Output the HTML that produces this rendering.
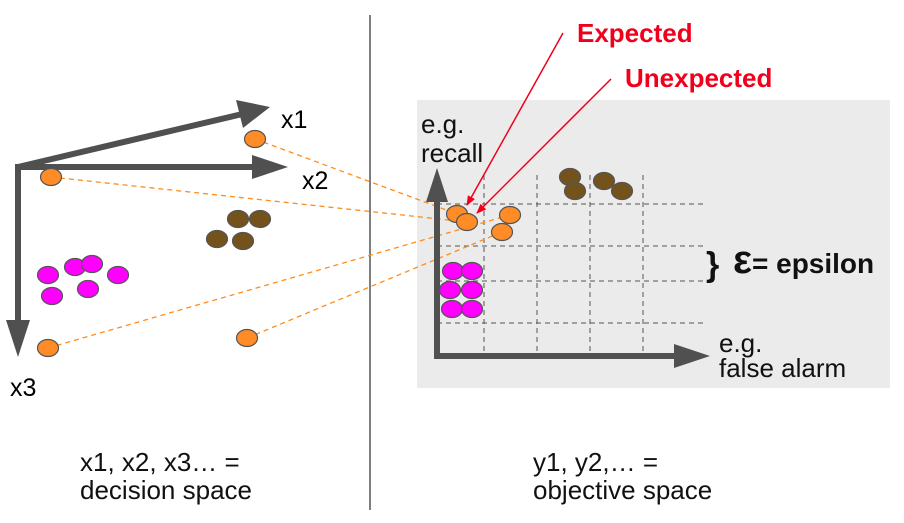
<!DOCTYPE html>
<html><head><meta charset="utf-8"><style>
html,body{margin:0;padding:0;background:#fff;}
svg{display:block;font-family:"Liberation Sans",sans-serif;}
</style></head><body>
<svg id="chart" width="904" height="523" viewBox="0 0 904 523">
<defs>
<marker id="redhead" markerWidth="10" markerHeight="10" refX="9" refY="5" orient="auto" markerUnits="userSpaceOnUse"><path d="M0,1 L10,5 L0,9 z" fill="#f0001c"/></marker>
</defs>
<rect x="417" y="100" width="473" height="288" fill="#ebebeb"/>
<line x1="370" y1="15" x2="370" y2="510" stroke="#555" stroke-width="1.5"/>
<g id="grid"></g>
<g id="dashes"></g>
<g fill="#505050" stroke="#505050">
<line x1="18" y1="167" x2="255" y2="111" stroke-width="6"/>
<polygon points="270,107 236,100 243,128" stroke="none"/>
<line x1="18" y1="167" x2="255" y2="167" stroke-width="6"/>
<polygon points="288,167 252,155 252,179" stroke="none"/>
<line x1="18" y1="164" x2="18" y2="325" stroke-width="6"/>
<polygon points="18,357 6,320 30,320" stroke="none"/>
</g>
<text x="281" y="128" font-size="25">x1</text>
<text x="302" y="189" font-size="25">x2</text>
<text x="10" y="396" font-size="25">x3</text>
<g fill="#505050" stroke="#505050">
<line x1="437" y1="190" x2="437" y2="358" stroke-width="6"/>
<polygon points="437,168 426,202 448,202" stroke="none"/>
<line x1="434" y1="356" x2="680" y2="356" stroke-width="6"/>
<polygon points="710,356 674,344 674,368" stroke="none"/>
</g>
<g id="points"></g>
<g>
<line x1="563" y1="33" x2="467" y2="205" stroke="#f0001c" stroke-width="1.5" marker-end="url(#redhead)"/>
<line x1="611" y1="79" x2="477" y2="213" stroke="#f0001c" stroke-width="1.5" marker-end="url(#redhead)"/>
</g>
<text x="577" y="42" font-size="26" font-weight="bold" fill="#f0001c">Expected</text>
<text x="625" y="87" font-size="26" font-weight="bold" fill="#f0001c">Unexpected</text>
<text x="421" y="133" font-size="26" fill="#111"><tspan x="421">e.g.</tspan><tspan x="421" dy="29">recall</tspan></text>
<text x="719" y="352" font-size="26" fill="#111"><tspan x="719">e.g.</tspan><tspan x="719" dy="25">false alarm</tspan></text>
<text x="706" y="276" font-size="34" font-weight="bold" fill="#111">}</text>
<text x="733" y="273" font-size="40" font-weight="bold" fill="#111">ε<tspan font-size="28">= epsilon</tspan></text>
<text x="80" y="471" font-size="26" fill="#111"><tspan x="80">x1, x2, x3… =</tspan><tspan x="80" dy="28">decision space</tspan></text>
<text x="533" y="471" font-size="26" fill="#111"><tspan x="533">y1, y2,… =</tspan><tspan x="533" dy="28">objective space</tspan></text>
</svg>
<script>
const gridX = [484, 537, 590, 643];
const gridY = [204, 246, 281, 323];
const decisionOrangeX = [255, 51, 48, 247];
const decisionOrangeY = [139, 177, 348, 338];
const objectiveOrangeX = [457, 467, 510, 502];
const objectiveOrangeY = [214, 222, 215, 232];
const decisionBrownX = [238, 260, 217, 243];
const decisionBrownY = [219, 219, 239, 241];
const objectiveBrownX = [570, 575, 604, 622];
const objectiveBrownY = [177, 191, 181, 191];
const decisionMagentaX = [48, 75, 92, 118, 52, 88];
const decisionMagentaY = [275, 267, 264, 275, 296, 289];
const objectiveMagentaX = [453, 472, 450, 472, 452, 472];
const objectiveMagentaY = [271, 271, 290, 290, 309, 309];
const NS = "http://www.w3.org/2000/svg";
const grid = document.getElementById('grid');
gridX.forEach(x => {
  const l = document.createElementNS(NS, 'line');
  
  
  l.setAttribute('x1', x); l.setAttribute('x2', x); l.setAttribute('y1', 175); l.setAttribute('y2', 356);
  l.setAttribute('stroke', '#555'); l.setAttribute('stroke-dasharray', '5,4'); l.setAttribute('stroke-width', '1');
  grid.appendChild(l);
});
gridY.forEach(y => {
  const l = document.createElementNS(NS, 'line');
  
  
  l.setAttribute('x1', 437); l.setAttribute('x2', 703); l.setAttribute('y1', y); l.setAttribute('y2', y);
  l.setAttribute('stroke', '#555'); l.setAttribute('stroke-dasharray', '5,4'); l.setAttribute('stroke-width', '1');
  grid.appendChild(l);
});
const dashes = document.getElementById('dashes');
decisionOrangeX.forEach((x, i) => {
  const l = document.createElementNS(NS, 'line');
  
  
  l.setAttribute('x1', x); l.setAttribute('y1', decisionOrangeY[i]);
  l.setAttribute('x2', objectiveOrangeX[i]); l.setAttribute('y2', objectiveOrangeY[i]);
  l.setAttribute('stroke', '#ff8c1a'); l.setAttribute('stroke-dasharray', '5,4'); l.setAttribute('stroke-width', '1.3');
  dashes.appendChild(l);
});
const pts = document.getElementById('points');
function dots(xs, ys, fill, name) {
  xs.forEach((x, i) => {
    const e = document.createElementNS(NS, 'ellipse');
    
    
    e.setAttribute('cx', x); e.setAttribute('cy', ys[i]); e.setAttribute('rx', 10.5); e.setAttribute('ry', 8.5);
    e.setAttribute('fill', fill); e.setAttribute('stroke', '#555'); e.setAttribute('stroke-width', '1.2');
    pts.appendChild(e);
  });
}
dots(decisionOrangeX, decisionOrangeY, '#ff8c26', 'decision-point-orange');
dots(decisionBrownX, decisionBrownY, '#74521b', 'decision-point-brown');
dots(decisionMagentaX, decisionMagentaY, '#ff00ff', 'decision-point-magenta');
dots(objectiveOrangeX, objectiveOrangeY, '#ff8c26', 'objective-point-orange');
dots(objectiveBrownX, objectiveBrownY, '#74521b', 'objective-point-brown');
dots(objectiveMagentaX, objectiveMagentaY, '#ff00ff', 'objective-point-magenta');
</script>
</body></html>
